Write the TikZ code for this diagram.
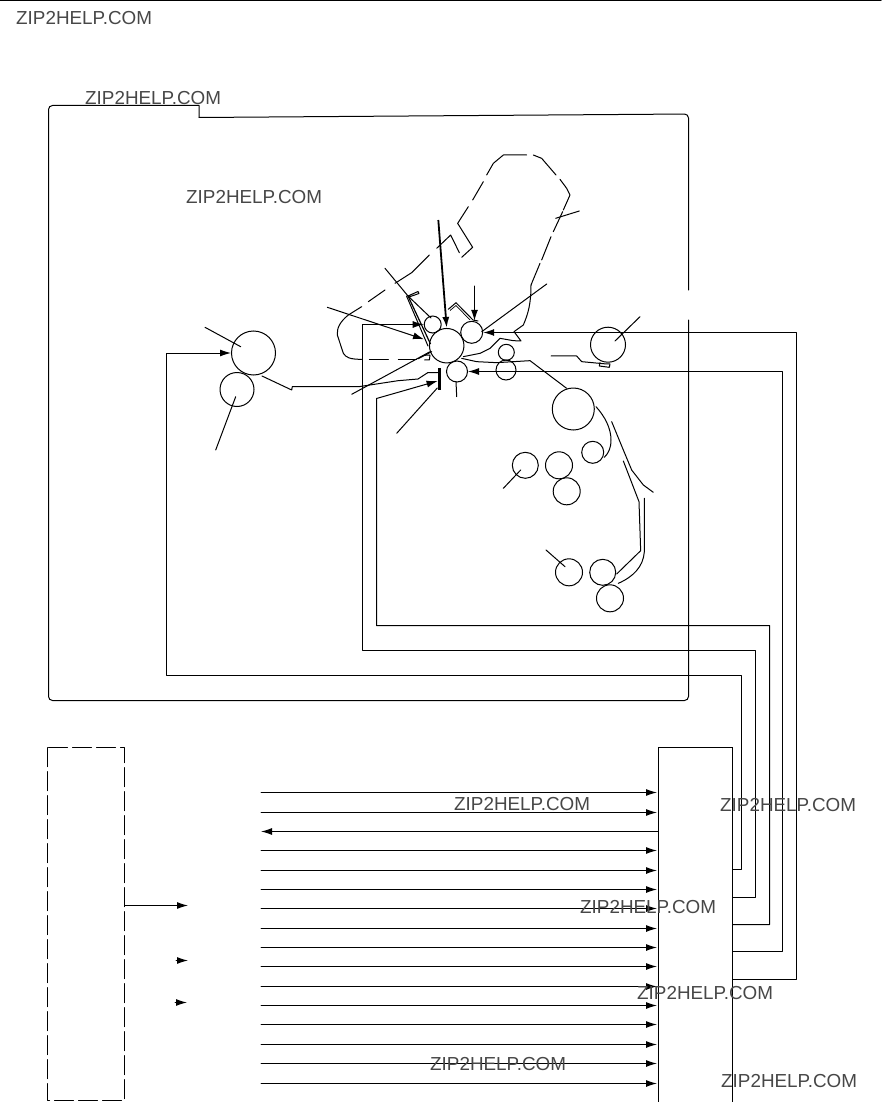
\documentclass[tikz,border=0pt]{standalone}
\usepackage{fontspec}
\setmainfont{Liberation Sans}
\usetikzlibrary{arrows.meta,calc}
\tikzset{
  ln/.style={line width=1pt,black,line join=round,line cap=round},
  roller/.style={circle,draw=black,line width=1pt,inner sep=0pt,fill=none},
  head/.style={-{Latex[length=11pt,width=7pt]}},
  ctrlbox/.style={rectangle,draw=black,line width=1pt,inner sep=0pt},
  wm/.style={anchor=west,inner sep=0pt,text=black!72,font=\fontsize{18.85}{20}\selectfont},
  zoomA/.style={shift={(320,140)},x=0.33333pt,y=-0.33333pt},
  zoomC/.style={shift={(490,380)},x=0.33333pt,y=-0.33333pt},
}
\begin{document}
\begin{tikzpicture}[x=1pt,y=-1pt]
\useasboundingbox (0,0) rectangle (881,1102);
\fill[white] (0,0) rectangle (881,1102);
\draw[ln] (0,0.5) -- (881,0.5);
% outer frame
\draw[ln] (199,117.5) -- (199,105.5) [rounded corners=4pt] -- (48.5,105.5) -- (48.5,700.5) -- (688.5,700.5) -- (688.5,320);
\draw[ln,rounded corners=4pt] (688.5,290) -- (688.5,114) -- (199,117.5);
% rollers
\node[roller,minimum size=44pt] (fuserU) at (253.5,353) {};
\node[roller,minimum size=34pt] (fuserL) at (237,389.5) {};
\node[roller,minimum size=34.5pt] (drum) at (446.7,345.7) {};
\node[roller,minimum size=17pt] (charge) at (432.7,324.5) {};
\node[roller,minimum size=22pt] (dev) at (471.7,332.3) {};
\node[roller,minimum size=21pt] (transfer) at (457,371.5) {};
\node[roller,minimum size=16pt] (regU) at (506.3,352.3) {};
\node[roller,minimum size=20pt] (regL) at (506,370) {};
\node[roller,minimum size=35pt] (mpf) at (608,344.7) {};
\node[roller,minimum size=42pt] (feedA) at (573.3,409) {};
\node[roller,minimum size=22pt] (feedB) at (592.7,452.3) {};
\node[roller,minimum size=26pt] (feedC) at (525.3,465.3) {};
\node[roller,minimum size=27pt] (feedD) at (559,465.3) {};
\node[roller,minimum size=27pt] (feedE) at (566.7,491.3) {};
\node[roller,minimum size=27pt] (feedF) at (569,572.3) {};
\node[roller,minimum size=26pt] (feedG) at (602.7,572.3) {};
\node[roller,minimum size=27pt] (feedH) at (610,598.3) {};
% bar
\node[rectangle,fill=black,minimum width=3pt,minimum height=22pt,inner sep=0pt] (bar) at (439.3,378.5) {};
% boxes
\node[ctrlbox,minimum width=74pt,minimum height=358pt] (ctrl) at (695.5,926.5) {};
\draw[ln,dash pattern=on 19pt off 5pt] (47.5,747.5) rectangle (124.5,1100.5);
\coordinate (psu) at (124.5,905.5);
% connectors from the controller
\coordinate (c1) at (732.5,869.5);
\coordinate (c2) at (732.5,897.5);
\coordinate (c3) at (732.5,924.5);
\coordinate (c4) at (732.5,951.5);
\coordinate (c5) at (732.5,979.5);
\draw[ln,head] (c1) -- (741.5,869.5) -- (741.5,675.5) -- (166.5,675.5) -- (166.5,353) -- (fuserU.west);
\draw[ln,head] (c2) -- (755.5,897.5) -- (755.5,650.5) -- (362.5,650.5) -- (362.5,324.5) -- (charge.west);
\draw[ln,head] (c3) -- (769.5,924.5) -- (769.5,625.5) -- (376.5,625.5) -- (376.5,398.5) -- ($(bar.west)+(0,2.5)$);
\draw[ln,head] (c4) -- (782.5,951.5) -- (782.5,371.5) -- (transfer.east);
\draw[ln,head] (c5) -- (796.5,979.5) -- (796.5,332.5) -- (dev.east |- 0,332.5);
% signal lines
\foreach \i/\yy in {1/792.5,2/812.5,4/850.5,5/870.5,6/889.5,7/908.5,8/928.5,9/947.5,10/966.5,11/986.5,12/1005.5,13/1024.5,14/1044.5,15/1063.5,16/1083.5}{
  \coordinate (s\i) at (261,\yy);
  \draw[ln,head,shorten >=1pt] (s\i) -- (s\i -| ctrl.west);
}
\coordinate (s3) at (261,831.5);
\draw[ln,head] (s3 -| ctrl.west) -- (s3);
% power supply arrows
\coordinate (p1) at (188,905.5);
\draw[ln,head] (psu) -- (p1);
\coordinate (p2a) at (176,960.5); \coordinate (p2b) at (188,960.5);
\draw[ln,head] (p2a) -- (p2b);
\coordinate (p3a) at (175,1002.5); \coordinate (p3b) at (187,1002.5);
\draw[ln,head] (p3a) -- (p3b);
% arrows onto drum and developer
\coordinate (laser) at (438.3,220);
\draw[line width=1.8pt,black,-{Latex[length=11pt,width=7pt]}] (laser) -- (drum.north);
\coordinate (devtop) at (474.5,286);
\draw[ln,head] (devtop) -- (dev.north -| devtop);
\coordinate (leadA) at (327.3,307.3);
\coordinate (leadAe) at (424,339.3);
\draw[ln,head] (leadA) -- (leadAe);
% output path + bar lead
\draw[ln] (262,376) -- (291.7,390) -- (292.3,386.5) -- (360,386.5) -- (398,380.7) -- (418,379) -- (428,372.5) -- (bar.west |- 0,372.5);
% leaders
\draw[ln] (205,327.3) -- (240.7,346.7);
\draw[ln] (235.7,396.7) -- (215.7,450);
\draw[ln] (396.7,433.3) -- (437.3,388);
\draw[ln] (351.7,394.3) -- (430,351.7);
\draw[ln] (456,381.7) -- (456.7,396.7);
\draw[ln] (546.7,284) -- (481.7,331.7);
\draw[ln] (555.7,218.3) -- (579.3,211);
\draw[ln] (640,316.7) -- (615,341);
\draw[ln] (385,268.3) -- (408,296) -- (431,318);
\draw[line width=1.2pt] (408,296) -- (430.5,344);
\draw[ln] (406.5,296) -- (428,346);
\draw[ln] (408,296) -- (418,291.5) -- (419,293.5) -- (409,297);
% developer blade
\draw[ln] (448.3,309.3) -- (456,302.7) -- (473,320) -- (478,321);
\draw[line width=0.7pt] (450,310.5) -- (456,305.5) -- (470,320);
% unit outline + paper paths in zoom coordinates
\begin{scope}[zoomA]
\draw[ln] (633,435) -- (660,370);
\draw[ln] (665,360) -- (693,290);
\draw[ln] (700,275) -- (728,215);
\draw[ln] (730,210) -- (750,165) -- (740,145) -- (720,118);
\draw[ln] (708,105) -- (665,55) -- (640,45);
\draw[ln] (620,45) -- (550,45) -- (520,70) -- (500,105);
\draw[ln] (490,125) -- (458,180);
\draw[ln] (445,200) -- (413,250) -- (458,322) -- (425,352);
\draw[ln] (418,338) -- (392,285) -- (350,325);
\draw[ln] (328,345) -- (275,398) -- (225,430);
\draw[ln] (195,450) -- (145,485);
\draw[ln] (125,500) -- (85,525) .. controls (60,545) and (50,565) .. (52,585) -- (70,640) .. controls (78,652) and (88,658) .. (125,658);
\draw[ln] (148,658) -- (205,658);
\draw[ln] (235,658) -- (290,658);
\draw[ln] (295,656) -- (335,635);
\draw[ln] (312,646) -- (330,645) -- (328,660) -- (314,660);
\draw[ln] (633,435) .. controls (633,490) and (625,520) .. (610,555) -- (582,575) -- (603,603) -- (580,602) -- (540,595) -- (510,625) -- (480,640) -- (430,650);
\draw[ln] (425,655) -- (470,665) -- (530,668) -- (630,662) -- (740,745);
\draw[ln] (693,648) -- (770,648) -- (785,665) -- (860,672) -- (870,672) -- (868,682) -- (838,678) -- (840,668);
\end{scope}
\begin{scope}[zoomC]
\draw[ln] (318,80) .. controls (345,110) and (363,145) .. (363,180) .. controls (363,205) and (355,220) .. (343,232);
\draw[ln] (365,125) -- (400,210) -- (425,270) -- (460,315) -- (490,337);
\draw[ln] (400,243) -- (447,365) -- (452,512) -- (380,582);
\draw[ln] (463,355) -- (463,515) .. controls (460,560) and (430,590) .. (385,610);
\draw[ln] (92,270) -- (40,325);
\draw[ln] (168,510) -- (225,560);
\end{scope}
% watermarks
\node[wm] at (16,18) {ZIP2HELP.COM};
\node[wm] at (85,98.5) {ZIP2HELP.COM};
\node[wm] at (186,197.5) {ZIP2HELP.COM};
\node[wm] at (454,804.5) {ZIP2HELP.COM};
\node[wm] at (720,805.5) {ZIP2HELP.COM};
\node[wm] at (580,906.5) {ZIP2HELP.COM};
\node[wm] at (637,992.5) {ZIP2HELP.COM};
\node[wm] at (430,1063.5) {ZIP2HELP.COM};
\node[wm] at (721,1080.5) {ZIP2HELP.COM};
\end{tikzpicture}
\end{document}
